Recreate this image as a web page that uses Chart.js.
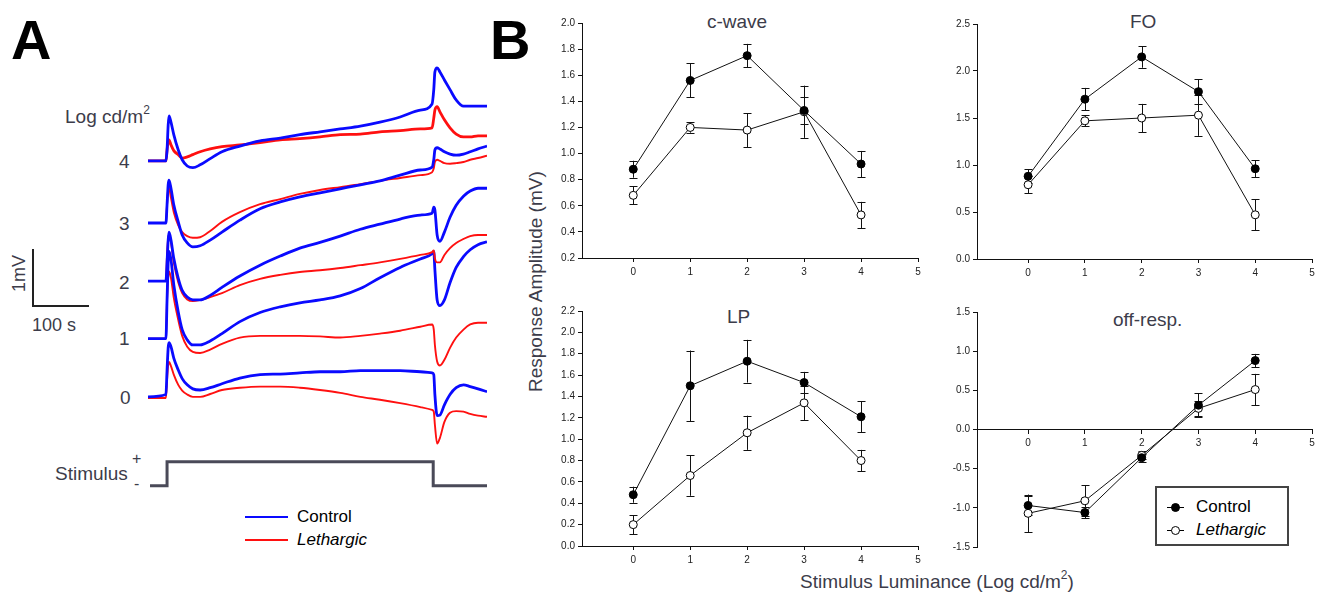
<!DOCTYPE html>
<html>
<head>
<meta charset="utf-8">
<script src="https://cdn.jsdelivr.net/npm/chart.js@4"></script>
<style>
  body { margin: 0; background: #fff; font-family: "Liberation Sans", Arial, sans-serif; }
  #page { position: relative; width: 1321px; height: 593px; overflow: hidden; }
  canvas { position: absolute; }
  .t { position: absolute; white-space: nowrap; color: #3c3c4a; line-height: 1; }
  .big { font-size: 56px; font-weight: bold; color: #000; }
  .key { position: absolute; height: 0; }
</style>
</head>
<body>
<div id="page">
  <div class="t big" style="left:11px;top:12px;">A</div>
  <div class="t big" style="left:490px;top:12px;">B</div>

  <div class="t" style="left:65px;top:104px;font-size:19px;">Log cd/m<sup style="font-size:12px;vertical-align:9px;">2</sup></div>
  <div class="t" style="left:119px;top:152px;font-size:19px;">4</div>
  <div class="t" style="left:119px;top:214px;font-size:19px;">3</div>
  <div class="t" style="left:119px;top:273px;font-size:19px;">2</div>
  <div class="t" style="left:119px;top:329px;font-size:19px;">1</div>
  <div class="t" style="left:120px;top:388px;font-size:19px;">0</div>

  <!-- scale bar -->
  <div style="position:absolute;left:32px;top:249px;width:0;height:57px;border-left:2px solid #222;"></div>
  <div style="position:absolute;left:32px;top:305px;width:57px;height:0;border-top:2px solid #222;"></div>
  <div class="t" style="left:10px;top:292px;font-size:18px;transform:rotate(-90deg);transform-origin:0 0;">1mV</div>
  <div class="t" style="left:32px;top:316px;font-size:18px;">100 s</div>

  <div class="t" style="left:55px;top:464px;font-size:19px;">Stimulus</div>
  <div class="t" style="left:132px;top:451px;font-size:16px;">+</div>
  <div class="t" style="left:134px;top:476px;font-size:16px;">-</div>

  <div class="key" style="left:245px;top:516px;width:43px;border-top:2.5px solid #0a0aff;"></div>
  <div class="key" style="left:245px;top:539px;width:43px;border-top:2px solid #ff1010;"></div>
  <div class="t" style="left:297px;top:508px;font-size:17px;color:#000;">Control</div>
  <div class="t" style="left:297px;top:531px;font-size:17px;color:#000;font-style:italic;">Lethargic</div>

  <div class="t" style="left:526px;top:392px;font-size:19px;transform:rotate(-90deg);transform-origin:0 0;">Response Amplitude (mV)</div>
  <div class="t" style="left:800px;top:569px;font-size:19px;">Stimulus Luminance (Log cd/m<sup style="font-size:12px;vertical-align:9px;">2</sup>)</div>

  <div class="t" style="left:707px;top:12px;font-size:19px;">c-wave</div>
  <div class="t" style="left:1130px;top:12px;font-size:19px;">FO</div>
  <div class="t" style="left:727px;top:307px;font-size:19px;">LP</div>
  <div class="t" style="left:1113px;top:310px;font-size:19px;">off-resp.</div>

  <!-- legend box for the summary plots -->
  <div style="position:absolute;left:1155px;top:486px;width:130px;height:56px;border:2px solid #444;"></div>
  <div class="key" style="left:1167px;top:507px;width:17px;border-top:1px solid #000;"></div>
  <div style="position:absolute;left:1171px;top:503px;width:7px;height:7px;border-radius:50%;background:#000;border:1px solid #000;"></div>
  <div class="key" style="left:1167px;top:530px;width:17px;border-top:1px solid #000;"></div>
  <div style="position:absolute;left:1171px;top:526px;width:7px;height:7px;border-radius:50%;background:#fff;border:1px solid #000;"></div>
  <div class="t" style="left:1196px;top:498px;font-size:17px;color:#000;">Control</div>
  <div class="t" style="left:1196px;top:521px;font-size:17px;color:#000;font-style:italic;">Lethargic</div>

  <canvas id="traces" width="349" height="450" style="left:143px;top:55px;"></canvas>
  <canvas id="cwave"></canvas>
  <canvas id="fo"></canvas>
  <canvas id="lp"></canvas>
  <canvas id="off"></canvas>
</div>

<script>
// ---- ERG recordings (mV relative to each trace's baseline), time in seconds ----
const traceTime = [0, 32, 34, 36, 37.5, 41, 46, 54, 61, 70, 80, 93, 111, 132, 164, 200, 236, 271, 307, 343,
  379, 414, 450, 486, 507, 510, 512, 516, 521, 529, 539, 550, 563, 575, 589, 605];
const levelOffset = [0, 1.02, 2.03, 3.05, 4.14];

const control4 = [0, 0, 0.19, 0.63, 0.79, 0.68, 0.46, 0.19, 0.02, -0.09, -0.12, -0.07, 0.04, 0.16, 0.26, 0.35, 0.40, 0.46, 0.51, 0.56,
  0.61, 0.68, 0.77, 0.89, 1.00, 1.25, 1.56, 1.63, 1.56, 1.42, 1.25, 1.07, 0.96, 0.96, 0.96, 0.96];
const lethargic4 = [0, 0, 0.19, 0.33, 0.37, 0.28, 0.18, 0.11, 0.05, 0.07, 0.11, 0.16, 0.21, 0.25, 0.28, 0.32, 0.37, 0.39, 0.42, 0.46,
  0.47, 0.51, 0.53, 0.56, 0.58, 0.75, 0.89, 0.95, 0.86, 0.72, 0.58, 0.47, 0.42, 0.42, 0.44, 0.44];
const control3 = [0, 0, 0.32, 0.67, 0.75, 0.61, 0.32, 0.02, -0.21, -0.35, -0.42, -0.40, -0.30, -0.16, 0.05, 0.25, 0.37, 0.46, 0.53, 0.60,
  0.67, 0.74, 0.84, 0.93, 0.98, 1.11, 1.28, 1.32, 1.30, 1.25, 1.21, 1.19, 1.21, 1.25, 1.30, 1.35];
const lethargic3 = [0, 0, 0.32, 0.58, 0.61, 0.44, 0.19, -0.04, -0.16, -0.23, -0.26, -0.25, -0.14, 0.02, 0.19, 0.33, 0.42, 0.51, 0.58, 0.63,
  0.68, 0.74, 0.79, 0.84, 0.89, 0.96, 1.07, 1.11, 1.09, 1.05, 1.04, 1.05, 1.07, 1.11, 1.14, 1.18];
const control2 = [0, 0, 0.33, 0.72, 0.86, 0.72, 0.40, 0.05, -0.16, -0.28, -0.33, -0.33, -0.25, -0.11, 0.09, 0.28, 0.44, 0.58, 0.68, 0.79,
  0.91, 1.00, 1.09, 1.16, 1.19, 1.30, 1.25, 0.81, 0.70, 0.86, 1.12, 1.33, 1.49, 1.58, 1.63, 1.63];
const lethargic2 = [0, 0, 0.46, 0.75, 0.81, 0.68, 0.33, -0.02, -0.21, -0.32, -0.35, -0.33, -0.28, -0.21, -0.07, 0.04, 0.11, 0.16, 0.19, 0.23,
  0.28, 0.33, 0.39, 0.46, 0.51, 0.54, 0.40, 0.33, 0.33, 0.46, 0.58, 0.67, 0.74, 0.79, 0.81, 0.81];
const control1 = [0, 0, 0.68, 1.35, 1.53, 1.39, 0.95, 0.47, 0.16, -0.02, -0.11, -0.11, -0.04, 0.09, 0.30, 0.46, 0.56, 0.63, 0.68, 0.75,
  0.88, 1.07, 1.25, 1.40, 1.49, 1.53, 1.21, 0.68, 0.58, 0.68, 0.98, 1.25, 1.44, 1.56, 1.65, 1.70];
const lethargic1 = [0, 0, 0.68, 1.07, 1.18, 1.07, 0.72, 0.33, 0.05, -0.14, -0.23, -0.25, -0.19, -0.09, 0.02, 0.05, 0.05, 0.05, 0.04, 0.02,
  0.05, 0.09, 0.14, 0.21, 0.25, 0.16, -0.11, -0.40, -0.47, -0.37, -0.16, 0.02, 0.16, 0.25, 0.28, 0.28];
const control0 = [0, 0.04, 0.47, 0.86, 0.95, 0.88, 0.68, 0.47, 0.32, 0.21, 0.14, 0.12, 0.16, 0.23, 0.33, 0.39, 0.40, 0.42, 0.44, 0.44,
  0.46, 0.46, 0.46, 0.44, 0.42, 0.39, 0.04, -0.33, -0.32, -0.14, 0.04, 0.16, 0.21, 0.18, 0.14, 0.09];
const lethargic0 = [-0.02, -0.02, 0.30, 0.56, 0.61, 0.54, 0.39, 0.21, 0.11, 0.04, 0, 0, 0.05, 0.12, 0.16, 0.18, 0.18, 0.16, 0.12, 0.07,
  0, -0.05, -0.11, -0.18, -0.23, -0.26, -0.49, -0.82, -0.72, -0.44, -0.28, -0.25, -0.26, -0.30, -0.33, -0.35];

// light stimulus marker, drawn below the traces
const stimTime = [3.6, 34, 34, 509, 509, 605];
const stimLevel = [-1.56, -1.56, -1.14, -1.14, -1.56, -1.56];

// ---- summary amplitudes (mean and SE) ----
const luminance = [0, 1, 2, 3, 4];
const xTicks = [0, 1, 2, 3, 4, 5];

const cwaveControl = [0.88, 1.56, 1.75, 1.33, 0.92];
const cwaveControlSE = [0.065, 0.13, 0.09, 0.10, 0.10];
const cwaveLethargic = [0.68, 1.20, 1.18, 1.32, 0.53];
const cwaveLethargicSE = [0.07, 0.04, 0.13, 0.20, 0.10];
const cwaveTicks = [0.2, 0.4, 0.6, 0.8, 1.0, 1.2, 1.4, 1.6, 1.8, 2.0];

const foControl = [0.88, 1.70, 2.15, 1.78, 0.96];
const foControlSE = [0.075, 0.12, 0.115, 0.13, 0.09];
const foLethargic = [0.79, 1.47, 1.50, 1.53, 0.47];
const foLethargicSE = [0.09, 0.06, 0.15, 0.22, 0.165];
const foTicks = [0.0, 0.5, 1.0, 1.5, 2.0, 2.5];

const lpControl = [0.48, 1.50, 1.73, 1.53, 1.21];
const lpControlSE = [0.075, 0.33, 0.20, 0.10, 0.145];
const lpLethargic = [0.20, 0.66, 1.06, 1.34, 0.80];
const lpLethargicSE = [0.09, 0.19, 0.16, 0.16, 0.10];
const lpTicks = [0.0, 0.2, 0.4, 0.6, 0.8, 1.0, 1.2, 1.4, 1.6, 1.8, 2.0, 2.2];

const offControl = [-0.97, -1.06, -0.36, 0.31, 0.88];
const offControlSE = [0.12, 0.07, 0.05, 0.15, 0.085];
const offLethargic = [-1.07, -0.91, -0.33, 0.27, 0.51];
const offLethargicSE = [0.24, 0.20, 0.05, 0.10, 0.20];
const offTicks = [-1.5, -1.0, -0.5, 0.0, 0.5, 1.0, 1.5];

const FONT = '"Liberation Sans", Arial, sans-serif';
const BLUE = '#0a0aff';
const RED = '#ff1010';

function pts(xs, ys, off) {
  return xs.map((x, i) => ({ x: x, y: ys[i] + (off || 0) }));
}

function trace(values, level, color, width) {
  return {
    data: pts(traceTime, values, levelOffset[level]),
    borderColor: color,
    borderWidth: width,
    pointRadius: 0,
    cubicInterpolationMode: 'monotone',
    fill: false
  };
}

const controls = [control0, control1, control2, control3, control4];
const lethargics = [lethargic0, lethargic1, lethargic2, lethargic3, lethargic4];
const traceSets = [];
for (let k = 4; k >= 0; k--) {
  traceSets.push(trace(controls[k], k, BLUE, 2.8));
  traceSets.push(trace(lethargics[k], k, RED, k === 4 ? 2.8 : 1.9));
}
traceSets.push({
  data: pts(stimTime, stimLevel),
  borderColor: '#4a4a58',
  borderWidth: 3,
  pointRadius: 0,
  tension: 0
});

new Chart(document.getElementById('traces'), {
  type: 'line',
  data: { datasets: traceSets },
  options: {
    responsive: false,
    animation: false,
    layout: { padding: 5 },
    plugins: { legend: { display: false }, tooltip: { enabled: false } },
    scales: {
      x: { type: 'linear', min: 0, max: 605, display: false },
      y: { min: -1.81, max: 5.91, display: false }
    }
  }
});

// vertical SE bars with caps, drawn under the markers
const errorBars = {
  id: 'errorBars',
  beforeDatasetsDraw(chart) {
    const ctx = chart.ctx;
    const xs = chart.scales.x, ys = chart.scales.y;
    ctx.save();
    ctx.strokeStyle = '#111';
    ctx.lineWidth = 1;
    chart.data.datasets.forEach(ds => {
      ds.data.forEach((p, i) => {
        const e = ds.errors[i];
        const px = Math.round(xs.getPixelForValue(p.x)) + 0.5;
        const top = ys.getPixelForValue(p.y + e);
        const bot = ys.getPixelForValue(p.y - e);
        ctx.beginPath();
        ctx.moveTo(px, top); ctx.lineTo(px, bot);
        ctx.moveTo(px - 4, Math.round(top) + 0.5); ctx.lineTo(px + 4, Math.round(top) + 0.5);
        ctx.moveTo(px - 4, Math.round(bot) + 0.5); ctx.lineTo(px + 4, Math.round(bot) + 0.5);
        ctx.stroke();
      });
    });
    ctx.restore();
  }
};

function series(values, errs, fill) {
  return {
    data: pts(luminance, values),
    errors: errs,
    borderColor: '#111',
    borderWidth: 1,
    pointRadius: 4,
    pointBorderWidth: 1,
    pointBackgroundColor: fill,
    pointBorderColor: '#000',
    tension: 0
  };
}

function summary(id, box, control, controlSE, lethargic, lethargicSE, yTicks, zeroAxis) {
  const [L, T, R, B] = box;
  const cv = document.getElementById(id);
  const padL = 45, padT = 10, padR = 12, padB = 25;
  cv.width = (R - L) + padL + padR;
  cv.height = (B - T) + padT + padB;
  cv.style.left = (L - padL) + 'px';
  cv.style.top = (T - padT) + 'px';
  const tickFont = { family: FONT, size: 10 };
  new Chart(cv, {
    type: 'line',
    data: {
      datasets: [
        series(control, controlSE, '#000'),
        series(lethargic, lethargicSE, '#fff')
      ]
    },
    plugins: [errorBars],
    options: {
      responsive: false,
      animation: false,
      layout: { padding: { left: 0, top: padT, right: padR, bottom: zeroAxis ? padB : 0 } },
      plugins: { legend: { display: false }, tooltip: { enabled: false } },
      scales: {
        x: {
          type: 'linear', min: -0.9, max: 5,
          position: zeroAxis ? { y: 0 } : 'bottom',
          afterBuildTicks: s => { s.ticks = xTicks.map(v => ({ value: v })); },
          afterFit: s => { s.height = padB; },
          grid: { drawOnChartArea: false, drawTicks: true, tickLength: 4, color: '#111' },
          border: { display: true, color: '#111', width: 1 },
          ticks: { font: tickFont, color: '#222', padding: 4, maxRotation: 0, callback: v => String(v) }
        },
        y: {
          min: yTicks[0], max: yTicks[yTicks.length - 1],
          afterBuildTicks: s => { s.ticks = yTicks.map(v => ({ value: v })); },
          afterFit: s => { s.width = padL; },
          grid: { drawOnChartArea: false, drawTicks: true, tickLength: 4, color: '#111' },
          border: { display: true, color: '#111', width: 1 },
          ticks: { font: tickFont, color: '#222', padding: 3, callback: v => v.toFixed(1) }
        }
      }
    }
  });
}

summary('cwave', [582, 23, 918, 258], cwaveControl, cwaveControlSE, cwaveLethargic, cwaveLethargicSE, cwaveTicks, false);
summary('fo', [977, 24, 1312, 259], foControl, foControlSE, foLethargic, foLethargicSE, foTicks, false);
summary('lp', [582, 311, 918, 546], lpControl, lpControlSE, lpLethargic, lpLethargicSE, lpTicks, false);
summary('off', [977, 312, 1312, 547], offControl, offControlSE, offLethargic, offLethargicSE, offTicks, true);
</script>
</body>
</html>
